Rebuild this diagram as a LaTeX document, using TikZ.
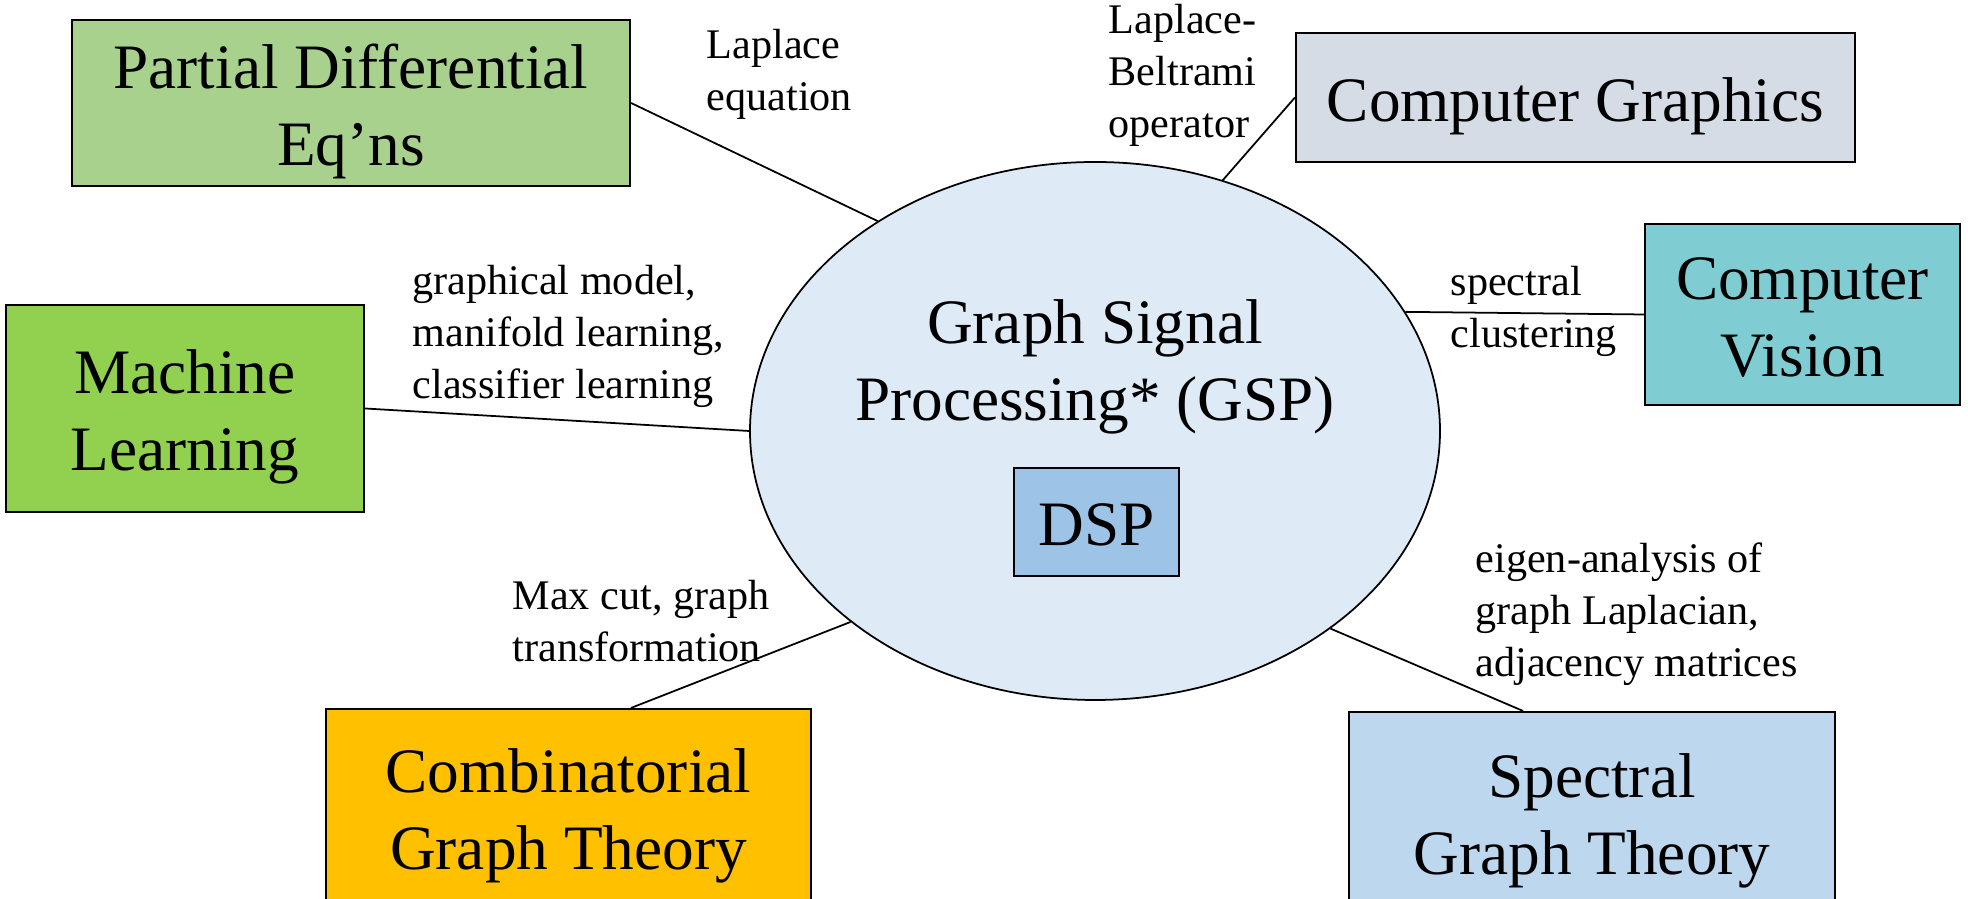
\documentclass[tikz,border=0pt]{standalone}
\usepackage{fontspec}
\setmainfont{Liberation Serif}
\usetikzlibrary{shapes,positioning}
\definecolor{pdegreen}{HTML}{A9D18E}
\definecolor{mlgreen}{HTML}{92D050}
\definecolor{cggray}{HTML}{D6DCE5}
\definecolor{cvteal}{HTML}{7FCDD3}
\definecolor{combgold}{HTML}{FFC000}
\definecolor{specblue}{HTML}{BDD7EE}
\definecolor{gspblue}{HTML}{DEEBF7}
\definecolor{dspblue}{HTML}{9DC3E6}
\newcommand{\topstrut}{\rule{0pt}{17.5pt}}
\newcommand{\botstrut}{\rule[-4pt]{0pt}{4pt}}

\begin{document}
\begin{tikzpicture}
            \tikzstyle{every node}+=[inner sep=0pt]
            \tikzstyle{field}=[draw=black, line width=0.6pt, align=center, font=\fontsize{18}{22}\selectfont]
            \tikzstyle{note}=[anchor=west, align=left, font=\fontsize{12}{14.8}\selectfont]
            \tikzstyle{link}=[black, line width=0.5pt]
            \useasboundingbox (0,0) rectangle (19.68,-8.99);
            \clip (0,0) rectangle (19.68,-8.99);
            % centre
            \node [draw=black, line width=0.5pt, ellipse, fill=gspblue, minimum width=6.9cm, minimum height=5.38cm] (gsp) at (10.95,-4.31) {};
            \node [align=center, font=\fontsize{18}{22}\selectfont] (gsptext) at (10.95,-3.67) {Graph Signal\\Processing* (GSP)};
            \node [field, fill=dspblue, minimum width=1.65cm, minimum height=1.08cm] (dsp) at (10.965,-5.22) {\topstrut DSP\botstrut};
            % fields
            \node [field, fill=pdegreen, minimum width=5.58cm, minimum height=1.66cm] (pde) at (3.51,-1.03) {\topstrut Partial Differential\\Eq’ns\botstrut};
            \node [field, fill=mlgreen, minimum width=3.58cm, minimum height=2.07cm] (ml) at (1.85,-4.085) {\topstrut Machine\\Learning\botstrut};
            \node [field, fill=cggray, minimum width=5.59cm, minimum height=1.29cm] (cg) at (15.755,-0.975) {\topstrut Computer Graphics\botstrut};
            \node [field, fill=cvteal, minimum width=3.15cm, minimum height=1.81cm] (cv) at (18.025,-3.145) {\topstrut Computer\\Vision\botstrut};
            \node [field, fill=combgold, minimum width=4.85cm, minimum height=1.96cm] (comb) at (5.685,-8.07) {\topstrut Combinatorial\\Graph Theory\botstrut};
            \node [field, fill=specblue, minimum width=4.86cm, minimum height=2.0cm] (spec) at (15.92,-8.12) {\topstrut Spectral\\Graph Theory\botstrut};
            % links
            \draw [link] (pde.east) -- (gsp.136.5);
            \draw [link] (ml.east) -- (gsp.west);
            \draw [link] (cg.west) -- (gsp.63.3);
            \draw [link] (cv.west) -- (gsp.21.3);
            \draw [link] ([xshift=0.625cm]comb.north) -- (gsp.218);
            \draw [link] ([xshift=-0.69cm]spec.north) -- (gsp.320);
            % labels
            \node [note] (lapl) at (7.06,-0.74) {Laplace\\equation};
            \node [note] (lb) at (11.08,-0.75) {Laplace-\\Beltrami\\operator};
            \node [note] (mltext) at (4.12,-3.36) {graphical model,\\manifold learning,\\classifier learning};
            \node [note] (spcl) at (14.50,-3.11) {spectral\\clustering};
            \node [note] (maxcut) at (5.12,-6.21) {Max cut, graph\\transformation};
            \node [note] (eigen) at (14.75,-6.14) {eigen-analysis of\\graph Laplacian,\\adjacency matrices};
\end{tikzpicture}
\end{document}
